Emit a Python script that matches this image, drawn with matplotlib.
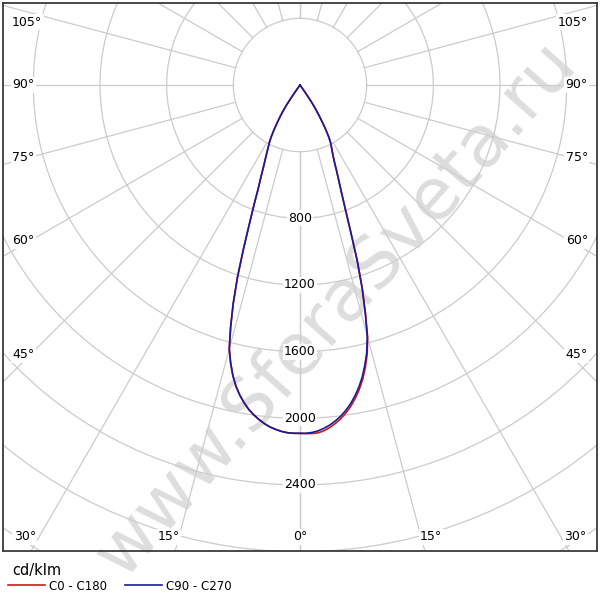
import numpy as np
import matplotlib
matplotlib.use("Agg")
import matplotlib.pyplot as plt
from matplotlib.patches import Circle
from matplotlib.lines import Line2D

# углы гамма (град) и сила света, cd/klm
gamma = list(range(0, 37)) + [45, 60, 75, 90]
c180 = [2090, 2090, 2088, 2082, 2072, 2060, 2043, 2022, 1998, 1970,
        1935, 1895, 1848, 1790, 1720, 1640, 1510, 1370, 1215, 1045,
        890, 770, 667, 600, 540, 494, 455, 421, 392, 358,
        315, 272, 230, 190, 145, 70, 0, 0, 0, 0, 0]
c270 = [2090, 2090, 2088, 2082, 2072, 2060, 2043, 2022, 1998, 1970,
        1935, 1895, 1848, 1790, 1720, 1640, 1510, 1370, 1215, 1045,
        890, 770, 667, 600, 540, 494, 455, 421, 392, 358,
        315, 272, 230, 190, 145, 70, 0, 0, 0, 0, 0]
c90 = [2090, 2090, 2086, 2078, 2065, 2048, 2027, 2002, 1972, 1937,
       1895, 1848, 1793, 1728, 1655, 1560, 1420, 1275, 1115, 940,
       800, 700, 625, 565, 510, 470, 440, 415, 390, 355,
       310, 260, 215, 170, 125, 55, 0, 0, 0, 0, 0]
c0 = [2090, 2092, 2092, 2090, 2079, 2062, 2041, 2016, 1986, 1951,
      1909, 1862, 1807, 1741, 1666, 1568, 1425, 1278, 1117, 941,
      800, 700, 625, 565, 510, 470, 440, 415, 390, 355,
      310, 260, 215, 170, 125, 55, 0, 0, 0, 0, 0]

rings = [400, 800, 1200, 1600, 2000, 2400, 2800, 3200, 3600, 4000]
ring_labels = [800, 1200, 1600, 2000, 2400]
side_angles = [45, 60, 75, 90, 105]
bottom_angles = [0, 15, 30]
unit = 'cd/klm'
names = ['C0 - C180', 'C90 - C270']
watermark = 'www.SferaSveta.ru'

px = 6.0  # cd/klm на пиксель
fig = plt.figure(figsize=(6, 6), dpi=100)
ax = fig.add_axes([3 / 600, 49 / 600, 594 / 600, 548 / 600])
ax.set_xlim(-297 * px, 297 * px)
ax.set_ylim(-466 * px, 82 * px)
ax.set_aspect('equal')
ax.set_xticks([])
ax.set_yticks([])
for s in ax.spines.values():
    s.set_color('#3a3a3a')
    s.set_linewidth(1.3)
    s.set_zorder(6)

grid = '#cbcbcb'
for r in rings:
    ax.add_patch(Circle((0, 0), r, fill=False, ec=grid, lw=0.9, zorder=1))
for a in range(0, 181, 15):
    t = np.radians(a)
    for sgn in (-1, 1):
        ax.plot([sgn * 400 * np.sin(t), sgn * 5000 * np.sin(t)],
                [-400 * np.cos(t), -5000 * np.cos(t)], color=grid, lw=0.9, zorder=1)

# водяной знак
ax.text(0.56, 0.485, watermark, transform=fig.transFigure, rotation=48.5, fontsize=52,
        color='#cfcfcf', alpha=0.7, ha='center', va='center', zorder=1.5, clip_on=False)

fs = 9
box = dict(fc='white', ec='none', pad=1.0)
for r in ring_labels:
    ax.text(0, -r, str(r), ha='center', va='center', fontsize=fs, bbox=box, zorder=2)

for a in side_angles:
    y = -270 * px / np.tan(np.radians(a))
    y = min(y, (85 - 22) * px)
    ax.text(-288 * px, y, f'{a}°', ha='left', va='center', fontsize=fs, bbox=box, zorder=2)
    ax.text(288 * px, y, f'{a}°', ha='right', va='center', fontsize=fs, bbox=box, zorder=2)
for a in bottom_angles:
    x = min(490 * px * np.tan(np.radians(a)), 275 * px)
    for sgn in ((1,) if a == 0 else (-1, 1)):
        ax.text(sgn * x, -452 * px, f'{a}°', ha='center', va='center', fontsize=fs, bbox=box, zorder=2)

g = np.radians(np.array(gamma))
def curve(right, left):
    right = np.array(right, float)
    left = np.array(left, float)
    xs = np.concatenate([-(left * np.sin(g))[::-1], right * np.sin(g)])
    ys = np.concatenate([-(left * np.cos(g))[::-1], -right * np.cos(g)])
    return xs, ys

x1, y1 = curve(c0, c180)
x2, y2 = curve(c90, c270)
ax.plot(x1, y1, color='#d01818', lw=1.2, zorder=4)
ax.plot(x2, y2, color='#1a1a9a', lw=1.2, zorder=5)

fig.text(12 / 600, 1 - 570 / 600, unit, ha='left', va='center', fontsize=10.5)
handles = [Line2D([], [], color='#d01818', lw=1.2), Line2D([], [], color='#1a1a9a', lw=1.2)]
fig.legend(handles, names, loc='center left', bbox_to_anchor=(8 / 600, 1 - 586 / 600), ncol=2,
           frameon=False, fontsize=8.5, handlelength=3.1, handletextpad=0.4, columnspacing=1.5,
           borderpad=0, borderaxespad=0)

fig.savefig('out.png', dpi=100, facecolor='white')
